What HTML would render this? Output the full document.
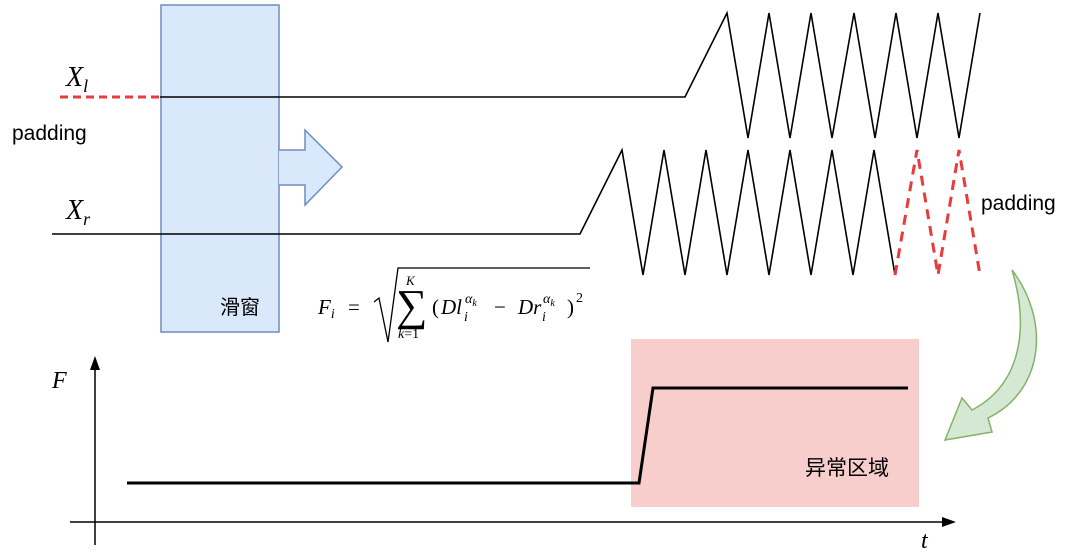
<!DOCTYPE html>
<html><head><meta charset="utf-8"><style>
body{margin:0;background:#fff}
.s{font-family:"Liberation Sans","Noto Sans CJK SC",sans-serif}
.m{font-family:"Liberation Serif",serif;font-style:italic}
.r{font-family:"Liberation Serif",serif}
</style></head><body>
<svg width="1080" height="555" viewBox="0 0 1080 555" xmlns="http://www.w3.org/2000/svg">
<rect x="161" y="5" width="118" height="327" fill="#dae8fc" stroke="#6c8ebf" stroke-width="1.5"/>
<path d="M279 150 H305 V130 L342 167 L305 205 V185 H279" fill="#dae8fc" stroke="#6c8ebf" stroke-width="1.5"/>
<text x="220" y="314" font-size="20" class="s">滑窗</text>
<line x1="60" y1="97" x2="160" y2="97" stroke="#e83b3b" stroke-width="3" stroke-dasharray="8,5"/>
<polyline fill="none" stroke="#000" stroke-width="1.6" points="160,97 685,97 727,13 748,138 769,13 790,138 811,13 832,138 854,13 875,138 896,13 917,138 938,13 959,138 980,13"/>
<polyline fill="none" stroke="#000" stroke-width="1.6" points="52,234 580,234 622,150 643,275 664,150 685,275 706,150 727,275 748,150 769,275 790,150 811,275 832,150 853,275 874,150 895,275"/>
<polyline fill="none" stroke="#e83b3b" stroke-width="3" stroke-dasharray="10,7" points="895,275 917,150 938,275 959,150 980,275"/>
<text x="66" y="86" font-size="28" class="m">X<tspan font-size="18" dy="6">l</tspan></text>
<text x="66" y="219" font-size="28" class="m">X<tspan font-size="18" dy="6">r</tspan></text>
<text x="12" y="140" font-size="21" class="s">padding</text>
<text x="981" y="210" font-size="21" class="s">padding</text>
<text x="318" y="314" font-size="21" class="m">F<tspan font-size="14" dy="4">i</tspan></text>
<text x="348" y="314" font-size="21" class="r">=</text>
<path d="M374 302 L379 298 L388 342 L398 268 H590" fill="none" stroke="#000" stroke-width="1.3"/>
<text x="396" y="320" font-size="44" class="r">∑</text>
<text x="406" y="285" font-size="13" class="m">K</text>
<text x="398" y="338" font-size="14" class="r"><tspan font-style="italic">k</tspan>=1</text>
<text x="432" y="314" font-size="21" class="r">(</text>
<text x="441" y="314" font-size="21" class="m">Dl</text>
<text x="465" y="303" font-size="14" class="m">α<tspan font-size="10" dy="3">k</tspan></text>
<text x="464" y="321" font-size="14" class="m">i</text>
<text x="494" y="314" font-size="21" class="r">−</text>
<text x="518" y="314" font-size="21" class="m">Dr</text>
<text x="543" y="303" font-size="14" class="m">α<tspan font-size="10" dy="3">k</tspan></text>
<text x="542" y="321" font-size="14" class="m">i</text>
<text x="567" y="314" font-size="21" class="r">)</text>
<text x="576" y="302" font-size="14" class="r">2</text>
<rect x="631" y="339" width="288" height="168" fill="#f8cecc"/>
<text x="805" y="475" font-size="21" class="s">异常区域</text>
<line x1="95" y1="545" x2="95" y2="365" stroke="#000" stroke-width="1.5"/>
<path d="M95 356 L90 370 L100 370Z" fill="#000"/>
<line x1="70" y1="522" x2="945" y2="522" stroke="#000" stroke-width="1.5"/>
<path d="M956 522 L942 517 L942 527Z" fill="#000"/>
<text x="52" y="388" font-size="24" class="m">F</text>
<text x="921" y="548" font-size="24" class="m">t</text>
<polyline fill="none" stroke="#000" stroke-width="3" points="127,483 639,483 653,388 908,388"/>
<path d="M1012 270 C1050 320 1045 390 988 418 L992 432 L945 440 L962 398 L972 410 C1020 385 1030 330 1012 270Z" fill="#d5e8d4" stroke="#82b366" stroke-width="1.5"/>
</svg>
</body></html>
